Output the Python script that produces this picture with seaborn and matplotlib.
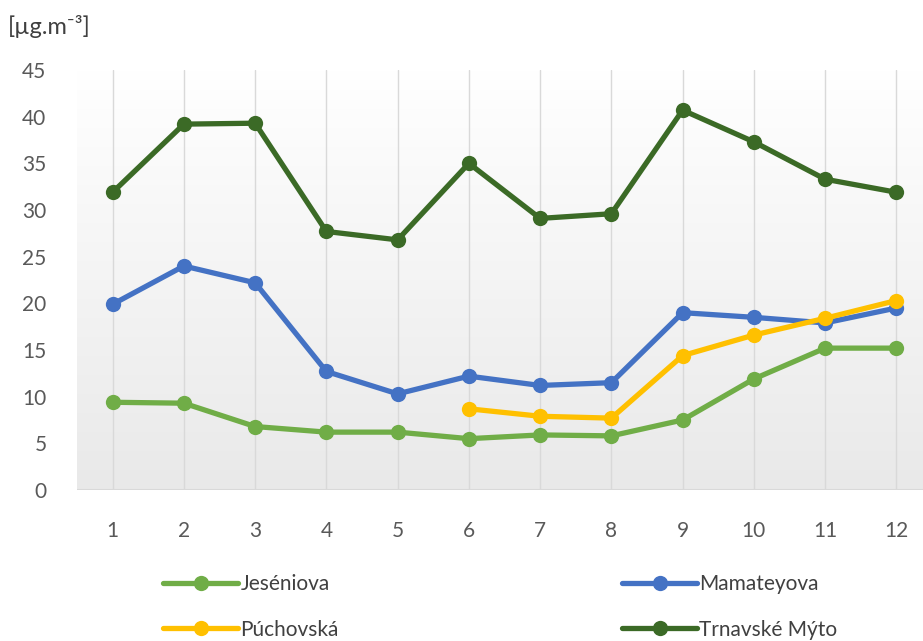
import numpy as np
import pandas as pd
import matplotlib
matplotlib.use("Agg")
import matplotlib.pyplot as plt
import seaborn as sns

months = list(range(1, 13))
jeseniova = [9.4, 9.3, 6.8, 6.2, 6.2, 5.5, 5.9, 5.8, 7.5, 11.9, 15.2, 15.2]
mamateyova = [19.9, 24.0, 22.2, 12.7, 10.3, 12.2, 11.2, 11.5, 19.0, 18.5, 17.9, 19.5]
puchovska = [np.nan, np.nan, np.nan, np.nan, np.nan, 8.7, 7.9, 7.7, 14.4, 16.6, 18.4, 20.3]
trnavske = [31.9, 39.2, 39.3, 27.7, 26.8, 35.0, 29.1, 29.6, 40.7, 37.3, 33.3, 31.9]

series_names = ["Jeséniova", "Mamateyova", "Púchovská", "Trnavské Mýto"]
series_values = [jeseniova, mamateyova, puchovska, trnavske]
colors = ["#70AD47", "#4472C4", "#FFC000", "#3B6A26"]
y_ticks = [0, 5, 10, 15, 20, 25, 30, 35, 40, 45]

df = pd.concat(
    [pd.DataFrame({"month": months, "value": vals, "station": name})
     for name, vals in zip(series_names, series_values)],
    ignore_index=True,
).dropna()

sns.set_theme(style="white")
plt.rcParams["font.family"] = ["Lato", "DejaVu Sans"]

fig = plt.figure(figsize=(9.23, 6.41), dpi=100)
ax = fig.add_axes([77 / 923, 1 - 490 / 641, 855 / 923, 420 / 641])

# soft vertical gradient behind the plot
grad = np.linspace(0, 1, 256).reshape(-1, 1)
cmap = matplotlib.colors.LinearSegmentedColormap.from_list("bg", ["#ffffff", "#e9e9e9"])
ax.imshow(grad, extent=[0, 1, 0, 1], transform=ax.transAxes, cmap=cmap,
          aspect="auto", origin="upper", zorder=0)

for m in months:
    ax.axvline(m, color="#d9d9d9", lw=1, zorder=1)
ax.axhline(0, color="#d9d9d9", lw=1.5, zorder=1)

sns.lineplot(data=df, x="month", y="value", hue="station", hue_order=series_names,
             palette=dict(zip(series_names, colors)), marker="o", markersize=11,
             markeredgewidth=0, linewidth=3.8, ax=ax, legend=False, zorder=3)

ax.set_xlim(0.5, 12.5)
ax.set_ylim(0, 45)
ax.set_xticks(months)
ax.set_yticks(y_ticks)
ax.tick_params(axis="x", colors="#595959", labelsize=15, length=0, pad=22)
ax.tick_params(axis="y", colors="#595959", labelsize=15, length=0, pad=22)
for s in ax.spines.values():
    s.set_visible(False)
ax.set_xlabel("")
ax.set_ylabel("")

fig.text(8 / 923, 1 - 26 / 641, "[µg.m⁻³]", fontsize=17, color="#404040",
         va="center", ha="left")

handles = [plt.Line2D([], [], color=c, lw=3.8, marker="o", markersize=11,
                      markeredgewidth=0) for c in colors]
order = [0, 2, 1, 3]
fig.legend([handles[i] for i in order], [series_names[i] for i in order],
           ncol=2, loc="center", bbox_to_anchor=(0.542, 1 - 607 / 641),
           frameon=False, fontsize=15, labelcolor="#404040",
           handlelength=3.6, handletextpad=0.1, columnspacing=13.6,
           labelspacing=1.2)

fig.savefig("out.png", dpi=100)
